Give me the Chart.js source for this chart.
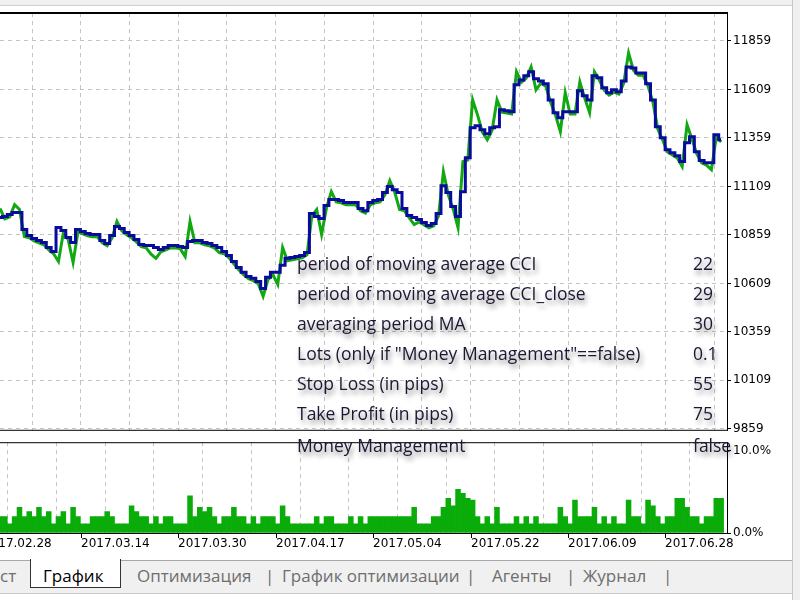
<!DOCTYPE html>
<html><head><meta charset="utf-8">
<script src="https://cdn.jsdelivr.net/npm/chart.js@4.4.0/dist/chart.umd.min.js"></script>
<style>
html,body{margin:0;padding:0;width:800px;height:600px;overflow:hidden;background:#fff;}
#topstrip{position:absolute;left:0;top:0;width:800px;height:5px;background:#f0f0f0;border-bottom:1px solid #d0d0d0;}
#rightstrip{position:absolute;left:792px;top:0;width:8px;height:600px;background:#f0f0f0;border-left:1px solid #c8c8c8;}
#c1{position:absolute;left:0;top:0;}
#c2{position:absolute;left:0;top:433px;background:#fff;}
#params{position:absolute;left:0;top:0;width:800px;height:600px;pointer-events:none;z-index:5;}
.pn,.pv{position:absolute;font-family:"Open Sans",sans-serif;font-size:17.5px;color:#1e1632;text-shadow:2px 4px 5px rgba(0,0,0,.45);line-height:20px;white-space:nowrap;}
#tabs{position:absolute;left:0;top:560px;width:792px;height:32px;background:#f0f0f0;border-top:1px solid #a8a8a8;border-bottom:1px solid #c8c8c8;z-index:3;}
.tab{position:absolute;top:4px;font-family:"Open Sans",sans-serif;font-size:17px;color:#6e6e6e;line-height:22px;white-space:nowrap;}
#seltab{position:absolute;left:30px;top:-2px;width:89px;height:28px;background:#fff;border-left:1px solid #333;border-right:1px solid #333;border-bottom:1px solid #333;}
</style></head>
<body>
<div id="topstrip"></div>
<canvas id="c1" width="800" height="440"></canvas>
<canvas id="c2" width="800" height="122"></canvas>
<div id="params"></div>
<div id="tabs"><div id="seltab"></div></div>
<div id="rightstrip"></div>
<script>
// ---- data ----
const balance = [10949,10954,10964,10974,10974,10887,10856,10840,10830,10820,10794,10774,10897,10882,10846,10820,10887,10876,10866,10861,10861,10830,10815,10856,10902,10892,10871,10856,10835,10810,10804,10804,10794,10784,10794,10804,10804,10799,10794,10825,10830,10830,10820,10815,10804,10794,10774,10753,10722,10691,10666,10645,10635,10619,10583,10640,10666,10666,10702,10738,10743,10748,10753,10768,10969,10954,10943,11010,11041,11041,11036,11026,11026,11026,10995,10984,11026,11036,11041,11077,11108,11092,11077,10995,10959,10949,10938,10923,10907,10918,10969,11113,11077,11005,10954,11082,11257,11411,11422,11401,11381,11411,11417,11504,11499,11494,11633,11658,11679,11700,11664,11653,11638,11555,11489,11463,11494,11494,11494,11602,11576,11555,11679,11669,11617,11592,11607,11597,11653,11725,11720,11694,11694,11638,11555,11417,11360,11298,11283,11267,11237,11334,11365,11288,11242,11231,11231,11375,11350];
const equity = [10995,10942,10952,11015,10990,10850,10844,10828,10818,10808,10782,10762,10722,10870,10834,10717,10875,10864,10854,10849,10849,10818,10803,10844,10928,10880,10859,10844,10823,10798,10792,10760,10738,10772,10782,10792,10792,10787,10748,10928,10818,10818,10808,10803,10792,10768,10762,10741,10710,10679,10654,10633,10623,10607,10542,10628,10654,10604,10794,10726,10731,10736,10741,10756,10957,10990,10861,10998,11082,11029,11024,11014,11014,11014,10983,10972,11014,11024,11029,11065,11139,11080,10990,10983,10947,10912,10926,10911,10895,10906,10957,11185,11065,10993,10897,11237,11245,11555,11478,11389,11350,11399,11555,11492,11487,11482,11700,11646,11667,11725,11607,11641,11626,11543,11477,11391,11592,11482,11482,11648,11564,11489,11700,11657,11605,11580,11595,11585,11641,11797,11708,11682,11682,11626,11543,11405,11348,11286,11271,11255,11211,11427,11353,11276,11230,11219,11195,11363,11338];
const load = [2.0,2.0,1.1,2.0,3.1,2.0,2.6,2.0,3.1,2.0,2.6,1.1,2.0,2.6,1.1,3.1,2.0,1.1,1.1,2.0,2.0,2.0,2.6,2.0,1.1,1.1,1.1,3.3,2.6,2.0,2.0,1.1,2.0,1.1,2.0,2.0,1.1,1.1,1.1,4.5,2.0,3.1,2.6,3.1,2.0,1.1,2.0,2.0,3.1,2.0,2.0,1.1,2.0,1.1,2.0,2.0,2.0,1.1,3.3,2.0,1.1,1.1,1.1,1.1,1.1,2.0,1.1,2.0,2.0,1.1,1.1,1.1,2.0,1.1,2.0,1.1,2.0,2.0,2.0,2.0,2.0,2.0,2.0,2.0,2.0,3.1,1.1,1.1,1.1,2.0,2.0,3.1,4.2,3.3,5.3,4.8,4.2,4.0,2.0,1.1,2.0,1.1,3.1,1.1,1.1,1.1,2.0,1.1,2.0,1.1,2.0,1.1,1.1,1.1,1.1,3.1,2.0,1.1,4.0,2.0,2.0,2.0,3.1,1.1,2.0,1.1,2.0,1.1,1.1,4.0,2.0,2.0,1.1,4.0,3.3,2.0,1.1,2.0,2.0,4.2,4.2,3.1,2.0,2.0,1.1,2.0,2.0,4.2,4.2];
const priceTicks = [9859,10109,10359,10609,10859,11109,11359,11609,11859];
const loadTicks = [0,10];
const loadTickLabels = ['0.0%','10.0%'];
const dateLabels = ['2017.02.28','2017.03.14','2017.03.30','2017.04.17','2017.05.04','2017.05.22','2017.06.09','2017.06.28'];
const paramNames = ['period of moving average CCI','period of moving average CCI_close','averaging period MA','Lots (only if "Money Management"==false)','Stop Loss (in pips)','Take Profit (in pips)','Money Management'];
const paramValues = ['22','29','30','0.1','55','75','false'];
const tabLabels = ['ст','График','Оптимизация','|','График оптимизации','|','Агенты','|','Журнал','|'];

// ---- axis config ----
const xMin = 0, xMax = 149.2, gridStart = 6.57, gridStep = 10;
const gridVals = [];
for (let k = 0; k <= 14; k++) gridVals.push(gridStart + gridStep * k);
const dateTickVals = dateLabels.map((d, j) => gridStart + gridStep * (2 * j - 1));
const tickFont = {family:'DejaVu Sans', size:12};

const frame = {
  id:'frame',
  afterDraw(chart, args, o){
    const {ctx, chartArea:a} = chart;
    ctx.save(); ctx.fillStyle = '#000';
    if (o.main) {
      ctx.fillRect(0, a.top-1, a.right+1, 2);
      ctx.fillRect(a.right, a.top, 1, a.bottom-a.top);
      ctx.fillRect(0, a.bottom-1, a.right+1, 1);
    } else {
      ctx.fillRect(0, a.top, a.right+1, 1);
      ctx.fillRect(a.right, a.top, 1, a.bottom-a.top);
      ctx.fillRect(0, a.bottom, a.right+1, 1);
      const xs = chart.scales.x;
      ctx.font = '12px "DejaVu Sans"';
      ctx.textAlign = 'left'; ctx.textBaseline = 'top';
      dateLabels.forEach((lab, j) => {
        const px = Math.round(xs.getPixelForValue(dateTickVals[j]));
        ctx.fillRect(px, a.bottom+1, 1, 4);
        ctx.fillText(lab, px, a.bottom + 5);
      });
    }
    ctx.restore();
  }
};

new Chart(document.getElementById('c1'), {
  type:'line',
  data:{datasets:[
    {label:'Balance', data:balance.map((v,i)=>({x:i,y:v})), borderColor:'#0a0a9c', borderWidth:3, pointRadius:0, stepped:'middle'},
    {label:'Equity', data:equity.map((v,i)=>({x:i,y:v})), borderColor:'#12a812', borderWidth:3, pointRadius:0, tension:0}
  ]},
  options:{
    responsive:false, animation:false, events:[],
    layout:{padding:{top:13,left:0,right:0,bottom:0}},
    plugins:{legend:{display:false}, tooltip:{enabled:false}, frame:{main:true}},
    scales:{
      x:{type:'linear', min:xMin, max:xMax,
        afterBuildTicks:s=>{s.ticks = gridVals.map(v=>({value:v}));},
        afterFit:s=>{s.height = 8;},
        ticks:{display:false},
        grid:{color:'#c4c4c4', lineWidth:1, drawTicks:false},
        border:{display:false, dash:[4,4]}},
      y:{position:'right', min:9849, max:12003,
        afterBuildTicks:s=>{s.ticks = priceTicks.map(v=>({value:v}));},
        afterFit:s=>{s.width = 73;},
        ticks:{font:tickFont, color:'#000', padding:2, callback:v=>String(v)},
        grid:{color:'#c4c4c4', lineWidth:1, tickLength:4, tickColor:'#000', tickBorderDash:[]},
        border:{display:false, dash:[4,4]}}
    }
  },
  plugins:[frame]
});

new Chart(document.getElementById('c2'), {
  type:'bar',
  data:{datasets:[
    {label:'Load', data:load.map((v,i)=>({x:i,y:v})), backgroundColor:'#0aac0a', borderWidth:0, barPercentage:1, categoryPercentage:1}
  ]},
  options:{
    responsive:false, animation:false, events:[],
    layout:{padding:{top:1,left:0,right:0,bottom:0}},
    plugins:{legend:{display:false}, tooltip:{enabled:false}, frame:{main:false}},
    scales:{
      x:{type:'linear', min:xMin, max:xMax, offset:false,
        afterBuildTicks:s=>{s.ticks = gridVals.map(v=>({value:v}));},
        afterFit:s=>{s.height = 22;},
        ticks:{display:false},
        grid:{color:'#c4c4c4', lineWidth:1, drawTicks:false},
        border:{display:false, dash:[4,4]}},
      y:{position:'right', min:0, max:11,
        afterBuildTicks:s=>{s.ticks = loadTicks.map(v=>({value:v}));},
        afterFit:s=>{s.width = 73;},
        ticks:{font:tickFont, color:'#000', padding:2, callback:v=>loadTickLabels[loadTicks.indexOf(v)]},
        grid:{drawOnChartArea:false, tickLength:4, tickColor:'#000'},
        border:{display:false}}
    }
  },
  plugins:[frame]
});

// ---- parameter overlay ----
const params = document.getElementById('params');
const rowY = [263,293,323,353,383,413,445];
paramNames.forEach((n,i)=>{
  const a = document.createElement('div'); a.className='pn'; a.textContent=n;
  a.style.left='297px'; a.style.top=(rowY[i]-10)+'px'; params.appendChild(a);
  const b = document.createElement('div'); b.className='pv'; b.textContent=paramValues[i];
  b.style.left='693px'; b.style.top=(rowY[i]-10)+'px'; params.appendChild(b);
});

// ---- tabs ----
const tabs = document.getElementById('tabs');
const tabX = [0,43,137,265,282,466,492,566,583,663];
tabLabels.forEach((t,i)=>{
  const d = document.createElement('div'); d.className='tab'; d.textContent=t;
  d.style.left=tabX[i]+'px';
  if (i===1) { d.style.color='#000'; d.style.zIndex='2'; }
  tabs.appendChild(d);
});
</script>
</body></html>
